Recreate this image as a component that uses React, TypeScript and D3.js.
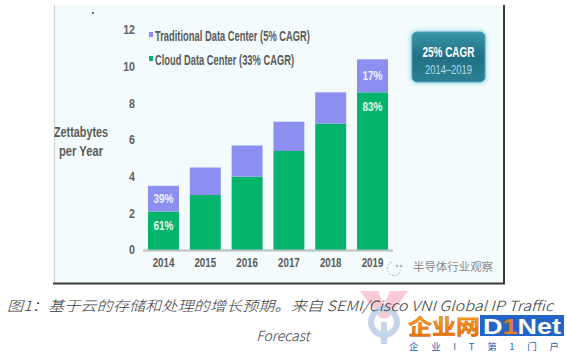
import React from "react";
import * as d3 from "d3";

const years = ["2014", "2015", "2016", "2017", "2018", "2019"];
const cloud = [2.1, 3.0, 4.0, 5.4, 6.9, 8.6];
const traditional = [1.4, 1.5, 1.7, 1.6, 1.7, 1.8];
const yTicks = [0, 2, 4, 6, 8, 10, 12];
const barLabels = [
  { year: "2014", series: "traditional", text: "39%" },
  { year: "2014", series: "cloud", text: "61%" },
  { year: "2019", series: "traditional", text: "17%" },
  { year: "2019", series: "cloud", text: "83%" },
];
const legendItems = [
  { key: "traditional", label: "Traditional Data Center (5% CAGR)", len: 155 },
  { key: "cloud", label: "Cloud Data Center (33% CAGR)", len: 139 },
];

const COLORS: Record<string, string> = { traditional: "#8c8ff0", cloud: "#05b46c" };
const FONT = "'Liberation Sans', Arial, sans-serif";
const CJK = "'Noto Sans CJK SC', sans-serif";

export default function App() {
  const W = 567, H = 353;
  const x = d3.scaleBand<string>().domain(years).range([143, 393]).paddingInner(0.26).paddingOuter(0.12);
  const y = d3.scaleLinear().domain([0, 12]).range([250, 30]);

  const rows = years.map((yr, i) => ({ year: yr, cloud: cloud[i], traditional: traditional[i] }));
  const stack = d3.stack<any>().keys(["cloud", "traditional"])(rows);

  const segFor = (year: string, key: string) => {
    const layer = stack.find((l) => l.key === key)!;
    const idx = years.indexOf(year);
    return layer[idx];
  };

  return (
    <svg width={W} height={H} style={{ position: "fixed", left: 0, top: 0, background: "#fff" }}>
      <defs>
        <linearGradient id="boxg" x1="0" y1="0" x2="0" y2="1">
          <stop offset="0" stopColor="#3a95a8" />
          <stop offset="0.5" stopColor="#226f84" />
          <stop offset="1" stopColor="#2c8095" />
        </linearGradient>
        <filter id="glow" x="-30%" y="-30%" width="160%" height="160%">
          <feGaussianBlur stdDeviation="2.2" />
        </filter>
        <linearGradient id="orange" x1="0" y1="0" x2="0" y2="1">
          <stop offset="0" stopColor="#ffb020" />
          <stop offset="1" stopColor="#ee6a00" />
        </linearGradient>
      </defs>

      {/* panel */}
      <rect x={54} y={5} width={450} height={278} fill="#f3fbfc" />
      <line x1={54.5} y1={5} x2={54.5} y2={283} stroke="#c9cfd0" strokeWidth={1.2} />
      <line x1={504} y1={5} x2={504} y2={284} stroke="#3a3a3a" strokeWidth={2} />
      <line x1={53} y1={283.5} x2={505} y2={283.5} stroke="#3a3a3a" strokeWidth={2.2} />
      <circle cx={93} cy={13} r={0.9} fill="#333" />

      {/* y label */}
      <text x={54} y={137} fontFamily={FONT} fontWeight="bold" fontSize={14} fill="#5a5a5a" textLength={54} lengthAdjust="spacingAndGlyphs">Zettabytes</text>
      <text x={59} y={156} fontFamily={FONT} fontWeight="bold" fontSize={14} fill="#5a5a5a" textLength={44} lengthAdjust="spacingAndGlyphs">per Year</text>

      {/* y ticks */}
      {yTicks.map((t) => (
        <text key={t} x={135} y={y(t) + 4.5} textAnchor="end" fontFamily={FONT} fontWeight="bold" fontSize={13} fill="#5f5f5f"
          transform={`translate(135,0) scale(0.82,1) translate(-135,0)`}>{t}</text>
      ))}

      {/* bars */}
      {stack.map((layer) =>
        layer.map((d, i) => (
          <rect key={layer.key + i} x={x(years[i])} y={y(d[1])} width={x.bandwidth()} height={y(d[0]) - y(d[1])} fill={COLORS[layer.key]} />
        ))
      )}

      {/* baseline */}
      <line x1={143} x2={393} y1={250.5} y2={250.5} stroke="#b9c0c2" strokeWidth={2} />

      {/* bar labels */}
      {barLabels.map((b) => {
        const s = segFor(b.year, b.series);
        const cx = (x(b.year) as number) + x.bandwidth() / 2;
        const top = y(s[1]);
        const bot = y(s[0]);
        const cy = b.series === "traditional" ? (top + bot) / 2 : top + 14;
        return (
          <text key={b.year + b.series} x={cx} y={cy + 4.5} textAnchor="middle" fontFamily={FONT} fontWeight="bold" fontSize={12.5}
            fill={b.series === "traditional" ? "#eef0ff" : "#e3f7ec"} transform={`translate(${cx},0) scale(0.8,1) translate(${-cx},0)`}>{b.text}</text>
        );
      })}

      {/* x labels */}
      {years.map((yr) => {
        const cx = (x(yr) as number) + x.bandwidth() / 2;
        return (
          <text key={yr} x={cx} y={267.5} textAnchor="middle" fontFamily={FONT} fontWeight="bold" fontSize={12.5} fill="#5a5a5a"
            transform={`translate(${cx},0) scale(0.78,1) translate(${-cx},0)`}>{yr}</text>
        );
      })}

      {/* legend */}
      {legendItems.map((l, i) => (
        <g key={l.key}>
          <rect x={149} y={32 + i * 24} width={4} height={5} fill={COLORS[l.key]} />
          <text x={155} y={41 + i * 24} fontFamily={FONT} fontWeight="bold" fontSize={14} fill="#5a5a5a" textLength={l.len} lengthAdjust="spacingAndGlyphs">{l.label}</text>
        </g>
      ))}

      {/* CAGR box */}
      <rect x={410} y={30} width={77} height={54} rx={7} fill="#9fd8e6" opacity={0.8} filter="url(#glow)" />
      <rect x={412} y={32} width={73} height={50} rx={5} fill="url(#boxg)" stroke="#4aa3b6" strokeWidth={1} />
      <text x={448.5} y={57} textAnchor="middle" fontFamily={FONT} fontWeight="bold" fontSize={14} fill="#ffffff" textLength={52} lengthAdjust="spacingAndGlyphs">25% CAGR</text>
      <text x={448.5} y={74} textAnchor="middle" fontFamily={FONT} fontSize={12} fill="#aedce6" textLength={47} lengthAdjust="spacingAndGlyphs">2014–2019</text>

      {/* watermark */}
      <g stroke="#b5b5b5" fill="none" strokeWidth={1}>
        <path d="M392 262 a7 7 0 1 0 9 8" strokeDasharray="2 1.5" />
        <circle cx={397} cy={266} r={1} fill="#b5b5b5" />
        <circle cx={401} cy={266} r={1} fill="#b5b5b5" />
      </g>
      <text x={413} y={271} fontFamily={CJK} fontSize={11.5} fill="#8a8a8a" textLength={80} lengthAdjust="spacingAndGlyphs">半导体行业观察</text>

      {/* logo watermark (faint) */}
      <g opacity={0.35}>
        <path d="M360 291 L378 291 L384 305 L390 291 L408 291 L388 318 L380 318 Z" fill="#f06a8a" />
        <circle cx={384} cy={322} r={13} fill="none" stroke="#5f86c8" strokeWidth={6} />
        <rect x={381} y={322} width={6} height={22} fill="#5f86c8" />
      </g>

      {/* caption */}
      <text x={7} y={311} fontFamily={CJK} fontStyle="italic" fontWeight={300} fontSize={14} fill="#3a3a3a" textLength={546} lengthAdjust="spacingAndGlyphs">图1：基于云的存储和处理的增长预期。来自 SEMI/Cisco VNI Global IP Traffic</text>
      <text x={283} y={341} textAnchor="middle" fontFamily={CJK} fontStyle="italic" fontWeight={300} fontSize={14} fill="#3a3a3a">Forecast</text>

      {/* logo text */}
      <text x={408} y={334} fontFamily={CJK} fontWeight="bold" fontSize={21} fill="url(#orange)" stroke="#c85a00" strokeWidth={0.4} textLength={72} lengthAdjust="spacingAndGlyphs">企业网</text>
      <rect x={480} y={315} width={84} height={21} fill="#2464c4" />
      <text x={483} y={334} fontFamily={FONT} fontWeight="bold" fontSize={22} fill="#ffffff" textLength={78} lengthAdjust="spacingAndGlyphs">
        D<tspan fill="#f07a10">1</tspan>Net
      </text>
      <text x={409} y={350} fontFamily={CJK} fontSize={9.5} fill="#2a5db0" textLength={150} lengthAdjust="spacing">企业IT第1门户</text>
    </svg>
  );
}
